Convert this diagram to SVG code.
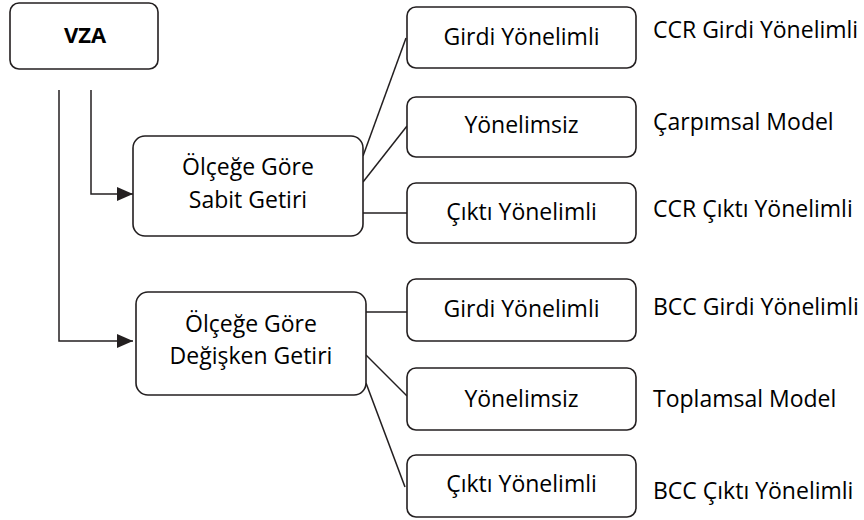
<svg xmlns="http://www.w3.org/2000/svg" width="864" height="520" viewBox="0 0 864 520">
<defs>
<style>
.box{fill:#fff;stroke:#231f20;stroke-width:1.6}
.ln{fill:none;stroke:#231f20;stroke-width:1.5}
.t{font-family:"Open Sans","Liberation Sans",sans-serif;font-size:23px;fill:#000;text-anchor:middle}
.l{font-family:"Open Sans","Liberation Sans",sans-serif;font-size:23px;fill:#000}
.b{font-weight:bold;font-size:22px}
</style>
<marker id="ah" markerWidth="16" markerHeight="14" refX="16" refY="7" orient="auto" markerUnits="userSpaceOnUse">
<path d="M0,0 L16,7 L0,14 Z" fill="#231f20"/>
</marker>
</defs>
<g id="connectors">
<polyline class="ln" points="59,90 59,341 133,341" marker-end="url(#ah)"/>
<polyline class="ln" points="91,90 91,194 133,194" marker-end="url(#ah)"/>
<line class="ln" x1="363" y1="156" x2="406" y2="38"/>
<line class="ln" x1="363" y1="182" x2="407" y2="126"/>
<line class="ln" x1="363" y1="213" x2="407" y2="213"/>
<line class="ln" x1="366" y1="312" x2="407" y2="312"/>
<line class="ln" x1="366" y1="355" x2="407" y2="396"/>
<line class="ln" x1="366" y1="383" x2="405" y2="487"/>
</g>
<g id="vza"><rect class="box" x="10" y="3" width="148" height="66" rx="9"/><text class="t b" x="85" y="43">VZA</text></g>
<g id="sabit"><rect class="box" x="133" y="136" width="230" height="100" rx="12"/><text class="t" x="248" y="175">Ölçeğe Göre</text><text class="t" x="248" y="208">Sabit Getiri</text></g>
<g id="degisken"><rect class="box" x="136" y="292" width="230" height="103" rx="12"/><text class="t" x="251" y="332">Ölçeğe Göre</text><text class="t" x="251" y="364">Değişken Getiri</text></g>
<g id="s-girdi"><rect class="box" x="407" y="7" width="229" height="61" rx="9"/><text class="t" x="521.5" y="45">Girdi Yönelimli</text></g>
<g id="s-yon"><rect class="box" x="407" y="97" width="229" height="60" rx="9"/><text class="t" x="521.5" y="133">Yönelimsiz</text></g>
<g id="s-cikti"><rect class="box" x="407" y="183" width="229" height="60" rx="9"/><text class="t" x="521.5" y="220">Çıktı Yönelimli</text></g>
<g id="d-girdi"><rect class="box" x="407" y="279" width="229" height="62" rx="9"/><text class="t" x="521.5" y="317">Girdi Yönelimli</text></g>
<g id="d-yon"><rect class="box" x="407" y="368" width="229" height="62" rx="9"/><text class="t" x="521.5" y="407">Yönelimsiz</text></g>
<g id="d-cikti"><rect class="box" x="407" y="455" width="229" height="62" rx="9"/><text class="t" x="521.5" y="492">Çıktı Yönelimli</text></g>
<g id="labels">
<text class="l" x="653" y="38">CCR Girdi Yönelimli</text>
<text class="l" x="653" y="130">Çarpımsal Model</text>
<text class="l" x="653" y="217">CCR Çıktı Yönelimli</text>
<text class="l" x="653" y="315">BCC Girdi Yönelimli</text>
<text class="l" x="653" y="407">Toplamsal Model</text>
<text class="l" x="653" y="499">BCC Çıktı Yönelimli</text>
</g>
</svg>
